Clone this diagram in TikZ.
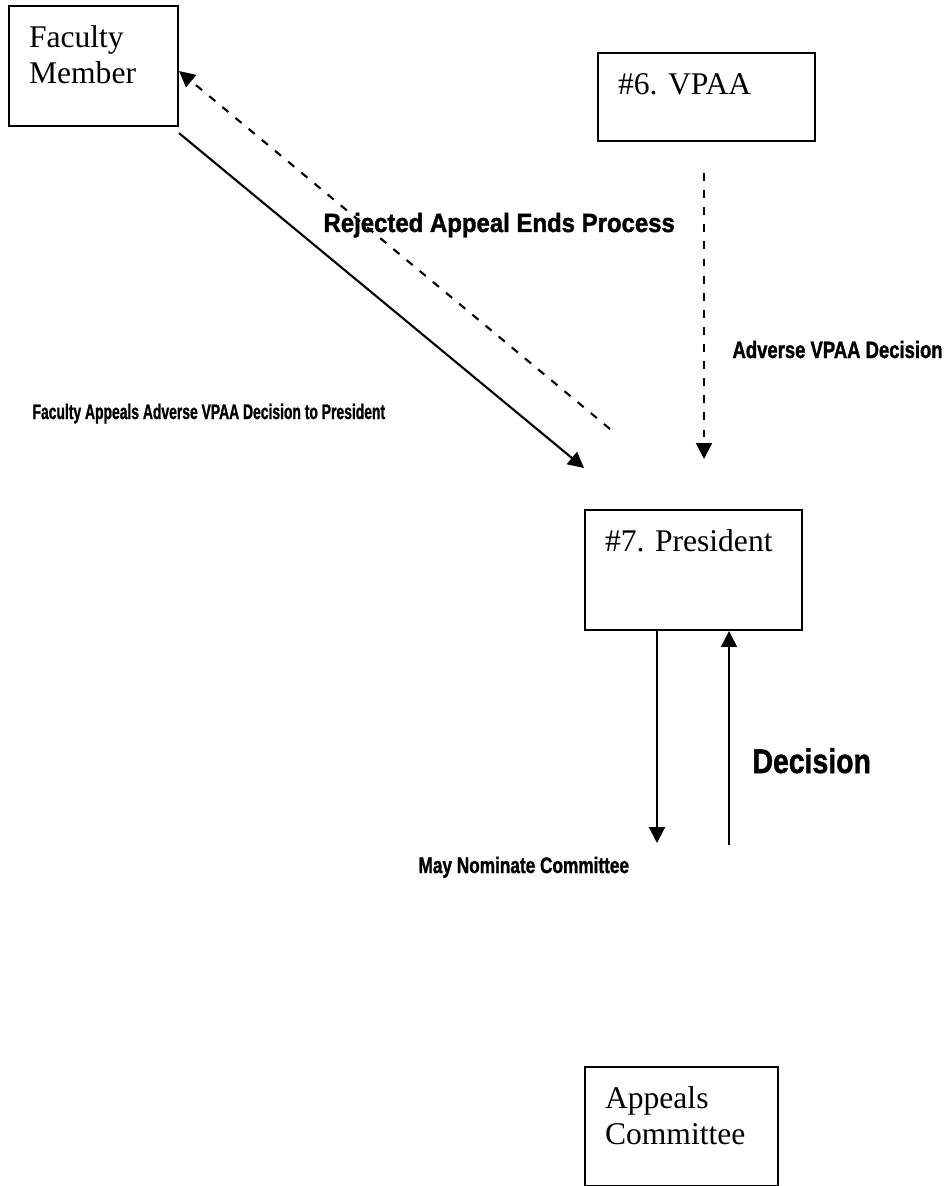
\documentclass[tikz,border=0pt]{standalone}
\usepackage{fontspec,graphicx}
\setmainfont{Liberation Serif}
\newfontfamily\lblfont[BoldFeatures={FakeBold=1.5}]{Liberation Sans}
\usetikzlibrary{arrows.meta}
\frenchspacing
% squeezed bold label: size, horizontal scale, text
\newcommand{\lbl}[3]{{\lblfont\bfseries\fontsize{#1}{#1}\selectfont\scalebox{#2}[1]{#3}}}

\begin{document}
\begin{tikzpicture}[x=0.38pt,y=-0.38pt,
  unit/.style={draw,line width=0.8pt,anchor=north west,align=left,inner xsep=7.6pt,inner ysep=7.6pt,text height=8pt,font=\fontsize{12}{14}\selectfont},
  tag/.style={anchor=base west,inner sep=0pt},
  flow/.style={line width=0.8pt,-{Triangle[length=6pt,width=6pt]}},
  back/.style={flow,dash pattern=on 3pt off 3.5pt}]
\useasboundingbox (0,0) rectangle (950,1186);
% boxes
\node[unit,text width=49pt,text depth=22.4pt] (fac) at (8,5) {Faculty\\Member};
\node[unit,text width=67.3pt,text depth=10.2pt] (vpaa) at (597,52) {\#6. VPAA};
\node[unit,text width=67.3pt,text depth=22.4pt] (pres) at (584,509) {\#7. President};
\node[unit,text width=58.1pt,text depth=22pt] (cmte) at (584,1066) {Appeals\\Committee};
% free ends
\coordinate (rejend) at (610,429);
\coordinate (apptip) at (584,468);
\coordinate (advtop) at (704,173);
\coordinate (advtip) at (704,459);
\coordinate (nomtip) at (657,843);
\coordinate (decend) at (729,845);
% connectors
\draw[back] (rejend) -- ([yshift=-1.9pt]fac.east);
\draw[flow] ([yshift=-2.3pt]fac.south east) -- (apptip);
\draw[back] (advtop) -- (advtip);
\draw[flow] (pres.south -| nomtip) -- (nomtip);
\draw[flow] (decend) -- (pres.south -| decend);
% labels
\node[tag] (rejlbl) at (323,232) {\lbl{10}{0.91}{Rejected Appeal Ends Process}};
\node[tag] (applbl) at (32,419) {\lbl{8}{0.66}{Faculty Appeals Adverse VPAA Decision to President}};
\node[tag] (advlbl) at (732,358) {\lbl{9}{0.78}{Adverse VPAA Decision}};
\node[tag] (declbl) at (752,773) {\lbl{13}{0.83}{Decision}};
\node[tag] (nomlbl) at (418,873) {\lbl{8.5}{0.77}{May Nominate Committee}};
\end{tikzpicture}
\end{document}
